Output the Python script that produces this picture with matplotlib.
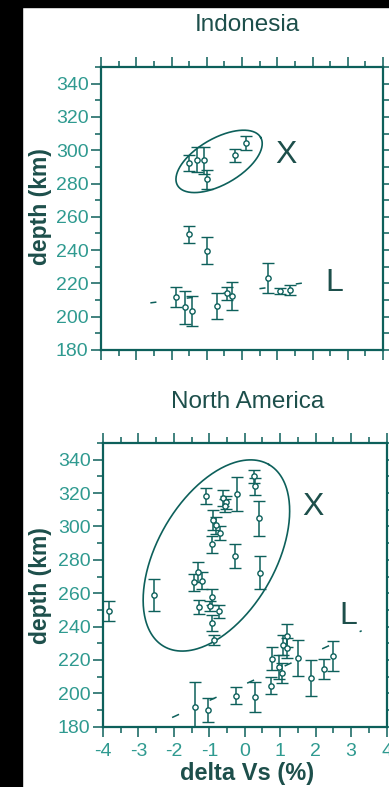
import numpy as np
import matplotlib
matplotlib.use("Agg")
import matplotlib.pyplot as plt
from matplotlib.patches import Rectangle
from matplotlib.ticker import MultipleLocator

plt.rcParams['font.family'] = ['Liberation Sans', 'DejaVu Sans']
plt.rcParams['axes.unicode_minus'] = False

# ---------------- data ----------------
# Indonesia
indo_x_dvs = [-1.49, -1.29, -1.07, -1.00, -0.21, 0.12]
indo_x_depth = [292.4, 294.4, 294.0, 282.6, 297.0, 304.4]
indo_x_err = [5, 7.5, 8, 5.7, 4, 4]

indo_mid_dvs = [-1.49, -1.00]
indo_mid_depth = [249.4, 239.6]
indo_mid_err = [5, 8]

indo_l_dvs = [-1.87, -1.63, -1.42, -0.72, -0.43, -0.29, 0.74, 1.09, 1.37]
indo_l_depth = [211.6, 205.6, 203.4, 206.4, 214.0, 212.4, 223.0, 215.4, 216.0]
indo_l_err = [6, 10, 9, 8, 4, 8.5, 9, 2, 3]

indo_trend_dvs = [-2.6, 1.9]
indo_trend_depth = [208.3, 220.7]

# ellipse: center (dVs, depth), semi-axes in px, angle in deg
indo_ell_center = (-0.65, 293.3)
indo_ell_axes = (48, 23)
indo_ell_angle = 30

# North America
na_x_dvs = [-3.83, -2.55, -1.44, -1.32, -1.22, -1.30, -0.92, -0.97, -0.72, -0.92,
            -0.87, -1.10, -0.60, -0.52, -0.55, -0.22, 0.25, 0.29, 0.39, -0.89,
            -0.80, -0.70, -0.93, -0.27, 0.44]
na_x_depth = [249.2, 258.8, 266.6, 272.6, 267.5, 251.8, 257.8, 252.2, 249.2, 242.2,
              232.2, 318.3, 317.0, 314.5, 312.5, 319.4, 330.0, 324.0, 304.8, 304.0,
              300.7, 296.0, 289.3, 282.3, 272.3]
na_x_err = [6, 9.5, 5, 6, 5, 4, 5, 3, 4, 5,
            3, 5, 5, 4, 4, 10, 4, 5, 10.5, 6,
            5, 4, 5, 7, 10]

na_l_dvs = [-1.40, -1.05, -0.24, 0.28, 0.75, 0.78, 0.97, 1.04, 1.08, 1.19,
            1.19, 1.51, 1.86, 2.23, 2.49]
na_l_depth = [192.0, 190.0, 198.6, 197.7, 204.5, 220.7, 215.7, 212.1, 229.1, 234.5,
              227.2, 221.1, 209.1, 214.5, 222.5]
na_l_err = [14.5, 7, 5, 9, 5, 7, 7, 6, 6, 7,
            6, 11, 11, 6, 9]

na_trend_dvs = [-2.05, 3.3]
na_trend_depth = [185.5, 237.5]

na_ell_center = (-0.80, 282.6)
na_ell_axes = (105, 59)
na_ell_angle = 60

x_ticks = [-4, -3, -2, -1, 0, 1, 2, 3, 4]
y_ticks = [180, 200, 220, 240, 260, 280, 300, 320, 340]

# ---------------- style ----------------
LINE = '#0d605b'
TICKTXT = '#2f9a90'
TITLE = '#1d4f4b'

W, H = 389, 787
fig = plt.figure(figsize=(W / 100, H / 100), dpi=100)
fig.patch.set_facecolor('white')


def px_axes(l, t, r, b):
    return [l / W, 1 - b / H, (r - l) / W, (b - t) / H]


ax1 = fig.add_axes(px_axes(101, 67, 383, 350))
ax2 = fig.add_axes(px_axes(103, 443, 386.5, 726.7))


def style(ax, labels_x):
    ax.set_xlim(-4, 4)
    ax.set_ylim(180, 350)
    ax.set_xticks(x_ticks)
    ax.set_yticks(y_ticks)
    ax.xaxis.set_minor_locator(MultipleLocator(0.5))
    ax.yaxis.set_minor_locator(MultipleLocator(10))
    for s in ax.spines.values():
        s.set_color(LINE)
        s.set_linewidth(1.6)
    ax.tick_params(which='both', direction='out', color=LINE, width=1.1,
                   top=True, right=True, labelsize=14, labelcolor=TICKTXT)
    ax.tick_params(which='major', length=7)
    ax.tick_params(which='minor', length=4)
    ax.tick_params(axis='y', pad=2)
    ax.tick_params(axis='x', pad=5, labelbottom=labels_x)
    ax.set_xticklabels([str(v) for v in x_ticks])


def ellipse(ax, center, axes_px, angle_deg):
    # semi-axes in pixels -> data units via the axis scales
    bbox = ax.get_window_extent()
    sx = bbox.width / (ax.get_xlim()[1] - ax.get_xlim()[0])
    sy = bbox.height / (ax.get_ylim()[1] - ax.get_ylim()[0])
    t = np.linspace(0, 2 * np.pi, 300)
    a, b = axes_px
    th = np.deg2rad(angle_deg)
    px = a * np.cos(t) * np.cos(th) - b * np.sin(t) * np.sin(th)
    py = a * np.cos(t) * np.sin(th) + b * np.sin(t) * np.cos(th)
    ax.plot(center[0] + px / sx, center[1] + py / sy, color=LINE, lw=1.2)


def errpts(ax, x, y, e):
    ax.errorbar(x, y, yerr=e, fmt='o', ms=3.8, mfc='white', mec=LINE, mew=1.0,
                ecolor=LINE, elinewidth=1.1, capsize=4, capthick=1.1, zorder=3)


for ax in (ax1, ax2):
    style(ax, ax is ax2)

# Indonesia
errpts(ax1, indo_x_dvs, indo_x_depth, indo_x_err)
errpts(ax1, indo_mid_dvs, indo_mid_depth, indo_mid_err)
errpts(ax1, indo_l_dvs, indo_l_depth, indo_l_err)
ax1.plot(indo_trend_dvs, indo_trend_depth, color=LINE, lw=1.1,
         linestyle=(0, (4, 20)))
ellipse(ax1, indo_ell_center, indo_ell_axes, indo_ell_angle)
ax1.text(1.24, 297, 'X', fontsize=23, color=TITLE, ha='center', va='center')
ax1.text(2.62, 220, 'L', fontsize=23, color=TITLE, ha='center', va='center')

# North America
errpts(ax2, na_x_dvs, na_x_depth, na_x_err)
errpts(ax2, na_l_dvs, na_l_depth, na_l_err)
ax2.plot(na_trend_dvs, na_trend_depth, color=LINE, lw=1.1,
         linestyle=(0, (5, 22)))
ellipse(ax2, na_ell_center, na_ell_axes, na_ell_angle)
ax2.text(1.92, 311.4, 'X', fontsize=23, color=TITLE, ha='center', va='center')
ax2.text(2.91, 246.2, 'L', fontsize=23, color=TITLE, ha='center', va='center')

# titles and labels
fig.text(247 / W, 1 - 25 / H, 'Indonesia', fontsize=17.5, color=TITLE,
         ha='center', va='center')
fig.text(248 / W, 1 - 402 / H, 'North America', fontsize=17.5, color=TITLE,
         ha='center', va='center')
fig.text(40 / W, 1 - 207 / H, 'depth (km)', fontsize=16.5, color=TITLE,
         ha='center', va='center', rotation=90, fontweight='bold')
fig.text(40 / W, 1 - 586 / H, 'depth (km)', fontsize=16.5, color=TITLE,
         ha='center', va='center', rotation=90, fontweight='bold')
fig.text(247 / W, 1 - 780 / H, 'delta Vs (%)', fontsize=17, color=TITLE,
         ha='center', va='baseline', fontweight='bold')

# black scan border (left and top)
fig.patches.append(Rectangle((0, 0), 22 / W, 1, transform=fig.transFigure,
                             color='black', zorder=10))
fig.patches.append(Rectangle((0, 1 - 7 / H), 1, 7 / H, transform=fig.transFigure,
                             color='black', zorder=10))

fig.savefig('out.png', dpi=100)
